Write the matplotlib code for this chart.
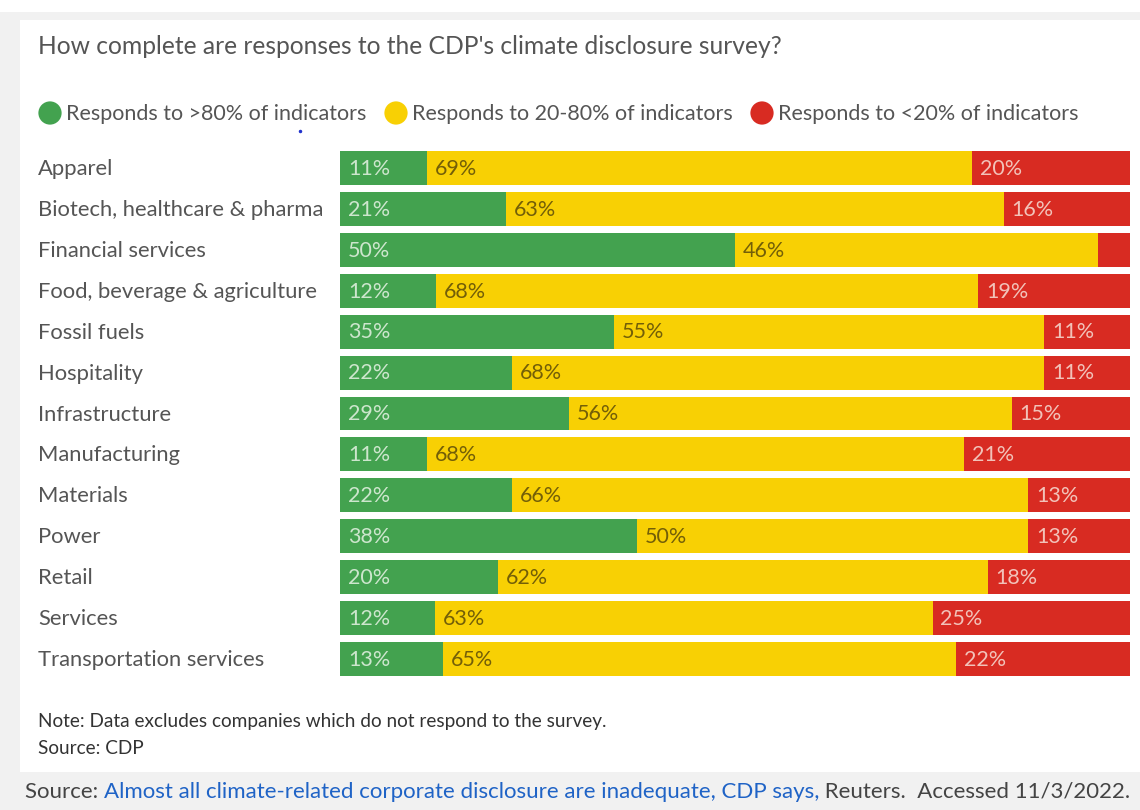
import matplotlib
matplotlib.use("Agg")
import matplotlib.pyplot as plt
from matplotlib.patches import Rectangle
import numpy as np

categories = ["Apparel", "Biotech, healthcare & pharma", "Financial services",
              "Food, beverage & agriculture", "Fossil fuels", "Hospitality",
              "Infrastructure", "Manufacturing", "Materials", "Power", "Retail",
              "Services", "Transportation services"]
high = [11, 21, 50, 12, 35, 22, 29, 11, 22, 38, 20, 12, 13]
mid = [69, 63, 46, 68, 55, 68, 56, 68, 66, 50, 62, 63, 65]
low = [20, 16, 4, 19, 11, 11, 15, 21, 13, 13, 18, 25, 22]
low_label = ["20%", "16%", "", "19%", "11%", "11%", "15%", "21%", "13%", "13%", "18%", "25%", "22%"]
series_names = ["Responds to >80% of indicators", "Responds to 20-80% of indicators",
                "Responds to <20% of indicators"]

title = "How complete are responses to the CDP's climate disclosure survey?"
note = "Note: Data excludes companies which do not respond to the survey."
source = "Source: CDP"

GREEN, YELLOW, RED = "#43a24f", "#f8d004", "#d82b22"
TXT = "#555555"
FONT = "Lato"

W, H = 1140, 810
fig = plt.figure(figsize=(W / 100, H / 100), dpi=100)
fig.patch.set_facecolor("white")

# background overlay in pixel coords
bg = fig.add_axes([0, 0, 1, 1])
bg.set_xlim(0, W)
bg.set_ylim(H, 0)
bg.axis("off")
bg.add_patch(Rectangle((0, 12), W, H - 12, facecolor="#f1f1f1", edgecolor="none"))
bg.add_patch(Rectangle((20, 20), W - 20, 752, facecolor="white", edgecolor="none"))

# bars
ax = fig.add_axes([340 / W, 1 - 679.5 / H, 790 / W, 532 / H])
ax.set_facecolor("none")
hi = np.array(high, float)
md = np.array(mid, float)
lo = np.array(low, float)
tot = hi + md + lo
hn, mn, ln = hi / tot * 100, md / tot * 100, lo / tot * 100
y = np.arange(len(categories))
bh = 0.83
ax.barh(y, hn, height=bh, color=GREEN, edgecolor="none")
ax.barh(y, mn, left=hn, height=bh, color=YELLOW, edgecolor="none")
ax.barh(y, ln, left=hn + mn, height=bh, color=RED, edgecolor="none")
ax.set_xlim(0, 100)
ax.set_ylim(len(categories) - 0.5, -0.5)
ax.axis("off")

pad = 1.0
lab_kw = dict(va="center", ha="left", fontsize=15.5, family=FONT)
for i in range(len(categories)):
    ax.text(pad, i + 0.02, f"{high[i]}%", color="#cde6cd", **lab_kw)
    ax.text(hn[i] + pad, i + 0.02, f"{mid[i]}%", color="#735f08", **lab_kw)
    if low_label[i]:
        ax.text(hn[i] + mn[i] + pad, i + 0.02, low_label[i], color="#f2c2b9", **lab_kw)
    fig.text(38 / W, 1 - (169 + i * 40.92) / H, categories[i], va="center", ha="left",
             fontsize=15.8, color=TXT, family=FONT)

# title
fig.text(38 / W, 1 - 47 / H, title, va="center", ha="left", fontsize=17.7, color=TXT, family=FONT)

# legend
leg_x = [50, 396, 762]
for cx, col, name in zip(leg_x, [GREEN, YELLOW, RED], series_names):
    bg.scatter([cx], [113], s=280, color=col, edgecolors="none", zorder=3)
    bg.text(cx + 16, 114, name, va="center", ha="left", fontsize=15.5, color=TXT, family=FONT)
bg.plot([300], [131], marker="o", markersize=1.5, color="#2233cc")

# notes
fig.text(38 / W, 1 - 722 / H, note, va="center", ha="left", fontsize=13.7, color="#333333",
         family=FONT)
fig.text(38 / W, 1 - 748 / H, source, va="center", ha="left", fontsize=13.7, color="#333333",
         family=FONT)

# caption with link colour
fig.canvas.draw()
r = fig.canvas.get_renderer()
parts = [("Source: ", "#444444"),
         ("Almost all climate-related corporate disclosure are inadequate, CDP says,", "#1f63c6"),
         (" Reuters.  Accessed 11/3/2022.", "#444444")]
x = 25
for txt, col in parts:
    t = bg.text(x, 792, txt, va="center", ha="left", fontsize=16, color=col, family=FONT)
    bb = t.get_window_extent(renderer=r)
    x += bb.width

fig.savefig("out.png", dpi=100, facecolor=fig.get_facecolor())
